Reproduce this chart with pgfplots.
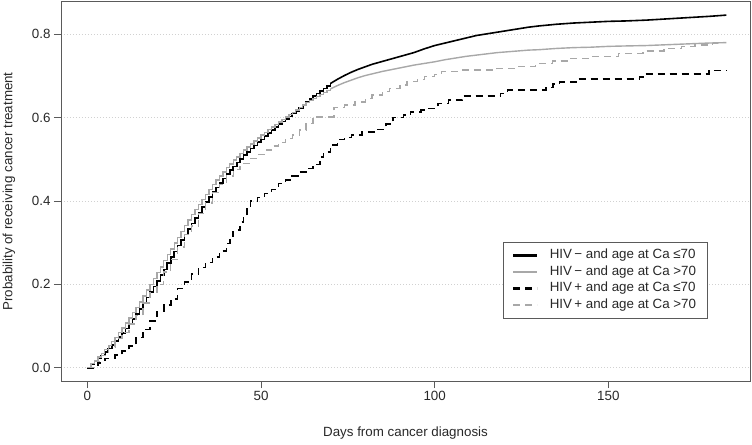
\documentclass[border=0pt]{standalone}
\usepackage{fontspec}
\setmainfont{Liberation Sans}
\usepackage{pgfplots}
\usepackage{pgfplotstable}
\pgfplotsset{compat=1.18}
\definecolor{lgray}{RGB}{168,168,168}
\definecolor{boxgray}{RGB}{90,90,90}
\definecolor{txt}{RGB}{40,40,40}

\pgfplotstableread{
d p
0 0.000
1 0.008
2 0.015
3 0.022
4 0.029
5 0.037
6 0.046
7 0.055
8 0.064
9 0.073
10 0.083
11 0.094
12 0.105
13 0.117
14 0.129
15 0.141
16 0.154
17 0.168
18 0.182
19 0.195
20 0.208
21 0.222
22 0.236
23 0.251
24 0.265
25 0.279
26 0.293
27 0.307
28 0.320
29 0.333
30 0.346
31 0.359
32 0.372
33 0.385
34 0.397
35 0.409
36 0.421
37 0.432
38 0.443
39 0.454
40 0.465
41 0.474
42 0.483
43 0.492
44 0.501
45 0.510
46 0.518
47 0.526
48 0.533
49 0.541
50 0.548
51 0.556
52 0.563
53 0.571
54 0.578
55 0.585
56 0.591
57 0.597
58 0.603
59 0.610
60 0.616
61 0.623
62 0.631
63 0.638
64 0.645
65 0.652
66 0.658
67 0.664
68 0.670
69 0.676
70 0.682
72 0.692
74 0.701
76 0.709
78 0.716
80 0.722
82 0.728
85 0.735
88 0.742
91 0.749
94 0.756
97 0.765
100 0.773
103 0.779
106 0.785
109 0.791
112 0.797
115 0.801
118 0.805
121 0.809
124 0.813
127 0.817
130 0.820
135 0.824
140 0.827
145 0.829
150 0.831
155 0.832
161 0.834
167 0.837
173 0.840
179 0.843
184 0.846
}\negyoung

\pgfplotstableread{
d p
0 0.000
1 0.010
2 0.018
3 0.026
4 0.034
5 0.043
6 0.053
7 0.063
8 0.073
9 0.084
10 0.095
11 0.107
12 0.119
13 0.132
14 0.145
15 0.158
16 0.172
17 0.186
18 0.200
19 0.214
20 0.228
21 0.242
22 0.257
23 0.271
24 0.285
25 0.299
26 0.313
27 0.327
28 0.341
29 0.354
30 0.367
31 0.380
32 0.392
33 0.404
34 0.416
35 0.428
36 0.439
37 0.450
38 0.460
39 0.470
40 0.480
41 0.489
42 0.498
43 0.506
44 0.514
45 0.522
46 0.530
47 0.537
48 0.544
49 0.551
50 0.558
51 0.565
52 0.571
53 0.578
54 0.584
55 0.590
56 0.596
57 0.602
58 0.607
59 0.613
60 0.618
61 0.624
62 0.630
63 0.636
64 0.641
65 0.646
66 0.651
67 0.656
68 0.661
69 0.665
70 0.669
72 0.677
74 0.684
76 0.690
78 0.696
80 0.701
82 0.705
85 0.711
88 0.716
91 0.721
94 0.726
97 0.730
100 0.734
103 0.739
106 0.743
109 0.747
112 0.750
115 0.753
118 0.756
121 0.758
124 0.760
127 0.762
130 0.763
135 0.766
140 0.768
145 0.769
150 0.771
155 0.772
161 0.773
167 0.775
173 0.777
179 0.779
184 0.780
}\negold

\pgfplotstableread{
d p
0 0.000
3 0.012
5 0.022
8 0.030
10 0.040
12 0.052
14 0.072
16 0.092
18 0.112
20 0.135
22 0.150
24 0.165
26 0.190
28 0.205
30 0.225
32 0.240
34 0.252
36 0.265
38 0.280
40 0.298
41 0.315
42 0.330
44 0.350
45 0.365
46 0.385
47 0.400
49 0.408
51 0.418
53 0.428
55 0.442
57 0.450
59 0.460
61 0.470
63 0.478
65 0.488
67 0.505
68 0.518
70 0.535
72 0.548
74 0.552
76 0.558
79 0.565
83 0.572
86 0.585
88 0.600
91 0.606
93 0.614
96 0.618
98 0.622
101 0.634
104 0.642
108 0.652
119 0.658
121 0.666
132 0.672
134 0.680
136 0.685
141 0.693
159 0.698
160 0.705
179 0.713
184 0.713
}\posyoung

\pgfplotstableread{
d p
0 0.000
2 0.015
4 0.030
6 0.050
8 0.070
10 0.085
12 0.105
14 0.125
16 0.155
18 0.180
20 0.200
22 0.230
24 0.260
26 0.290
28 0.320
30 0.340
32 0.370
34 0.395
36 0.420
38 0.440
40 0.460
42 0.475
44 0.490
47 0.502
49 0.512
51 0.522
53 0.532
55 0.540
57 0.550
59 0.558
61 0.570
63 0.586
65 0.602
71 0.624
74 0.630
77 0.638
80 0.646
82 0.654
85 0.662
87 0.670
90 0.678
92 0.686
95 0.692
97 0.698
100 0.704
102 0.710
107 0.714
118 0.718
123 0.722
129 0.730
134 0.736
139 0.742
145 0.746
153 0.754
160 0.760
166 0.766
171 0.770
175 0.774
180 0.778
183 0.781
184 0.781
}\posold

\begin{document}
\begin{tikzpicture}
\path[use as bounding box] (-61bp,-64bp) rectangle (691bp,381bp);
\begin{axis}[
  scale only axis,
  width=689bp, height=379.3bp,
  xmin=-7.6, xmax=190.8,
  ymin=-0.0319, ymax=0.8782,
  axis line style={draw=boxgray, line width=0.8bp},
  xtick={0,50,100,150},
  ytick={0,0.2,0.4,0.6,0.8},
  xtick pos=bottom, ytick pos=left,
  tick align=outside,
  major tick length=7bp,
  tick style={draw=boxgray, line width=0.8bp},
  ymajorgrids,
  grid style={draw=black!18, line width=0.7bp, dash pattern=on 0.8bp off 2.2bp},
  yticklabel style={/pgf/number format/fixed, /pgf/number format/precision=1, /pgf/number format/fixed zerofill},
  /pgf/number format/assume math mode=true,
  ticklabel style={font=\fontsize{13.4}{16}\selectfont, text=txt},
  label style={font=\fontsize{13.4}{16}\selectfont, text=txt},
  xlabel={Days from cancer diagnosis},
  ylabel={Probability of receiving cancer treatment},
  xlabel style={at={(axis description cs:0.5,-0.137)}, anchor=center},
  ylabel style={at={(axis description cs:-0.0755,0.5)}, anchor=center},
  legend cell align=left,
  legend style={at={(rel axis cs:0.9376,0.3665)}, anchor=north east,
    draw=boxgray, font=\fontsize{13.4}{16}\selectfont, text=txt,
    inner xsep=9bp, inner ysep=5bp, row sep=0bp, column sep=10bp,
    nodes={inner sep=1.75bp, text height=10bp, text depth=3bp}},
  legend image code/.code={\path[#1, draw] (0bp,0bp) -- (24bp,0bp);},
]
\addplot[const plot, black, line width=1.6bp, restrict x to domain=0:70,
  legend image post style={line width=2.2bp}] table[x=d,y=p] {\negyoung};
\addlegendentry{HIV\,− and age at Ca ≤70}
\addplot[const plot, lgray, line width=1.4bp, restrict x to domain=0:70,
  legend image post style={line width=1.7bp}] table[x=d,y=p] {\negold};
\addlegendentry{HIV\,− and age at Ca >70}
\addplot[const plot, black, line width=1.6bp, dash pattern=on 7bp off 5bp,
  legend image post style={line width=2.2bp}] table[x=d,y=p] {\posyoung};
\addlegendentry{HIV\,+ and age at Ca ≤70}
\addplot[const plot, lgray, line width=1.4bp, dash pattern=on 7bp off 5bp,
  legend image post style={line width=1.7bp}] table[x=d,y=p] {\posold};
\addlegendentry{HIV\,+ and age at Ca >70}
\addplot[forget plot, sharp plot, black, line width=1.6bp, restrict x to domain=70:184] table[x=d,y=p] {\negyoung};
\addplot[forget plot, sharp plot, lgray, line width=1.4bp, restrict x to domain=70:184] table[x=d,y=p] {\negold};
\end{axis}
\end{tikzpicture}
\end{document}
